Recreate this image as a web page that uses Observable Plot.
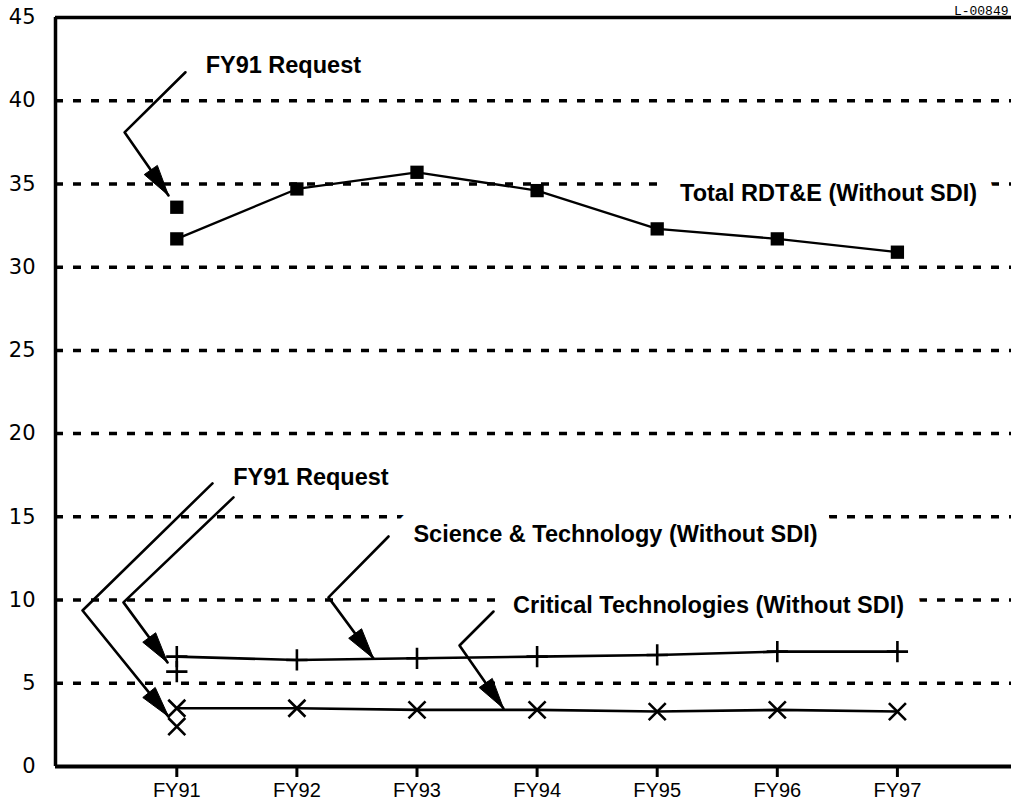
<!DOCTYPE html>
<html><head><meta charset="utf-8">
<script src="https://cdn.jsdelivr.net/npm/d3@7"></script>
<script src="https://cdn.jsdelivr.net/npm/@observablehq/plot@0.6"></script>
<style>body{margin:0;background:#fff;} #chart{width:1011px;height:810px;}</style>
</head><body><div id="chart"></div>
<script>
// ---- data ----
const years = ["FY91","FY92","FY93","FY94","FY95","FY96","FY97"];
const totalRDTE    = [31.7, 34.7, 35.7, 34.6, 32.3, 31.7, 30.9];
const scienceTech  = [6.6, 6.4, 6.5, 6.6, 6.7, 6.9, 6.9];
const criticalTech = [3.5, 3.5, 3.4, 3.4, 3.3, 3.4, 3.3];
const requestYear = "FY91";
const requestTotal = [33.6];
const requestScience = [5.7];
const requestCritical = [2.4];
const yTicks = [0, 5, 10, 15, 20, 25, 30, 35, 40, 45];
const gridValues = [5, 10, 15, 20, 25, 30, 35, 40];

// annotation labels (data coordinates)
const labelTexts = ["FY91 Request", "Total RDT&E (Without SDI)", "FY91 Request",
                    "Science & Technology (Without SDI)", "Critical Technologies (Without SDI)"];
const labelX = [91.24, 95.19, 91.47, 92.97, 93.80];
const labelY = [42.13, 34.43, 17.37, 13.94, 9.67];

// leader polylines (data coordinates): start, knee, arrow tip
const leaderIds = ["top", "critReq", "stReq", "st", "crit"];
const leaderX = [[91.072, 90.565, 90.931], [91.297, 90.215, 90.931], [91.472, 90.556, 90.923],
                 [92.763, 92.263, 92.638], [93.637, 93.354, 93.720]];
const leaderY = [[41.71, 38.10, 34.31], [17.01, 9.375, 3.0], [16.17, 9.86, 6.25],
                 [13.82, 10.16, 6.49], [9.31, 7.27, 3.49]];

// ---- layout ----
const W = 1011, H = 810;
const mL = 55, mR = 0, mT = 17, mB = 44;
const xDomain = [89.99, 97.95];
const yDomain = [0, 45];
const fy = s => +s.slice(2);

const rows = years.map((y, i) => ({year: fy(y), total: totalRDTE[i], st: scienceTech[i], crit: criticalTech[i]}));
const labels = labelTexts.map((t, i) => ({t, x: labelX[i], y: labelY[i]}));
const leaderPts = leaderIds.flatMap((id, i) => leaderX[i].map((x, j) => ({id, x, y: leaderY[i][j]})));

// arrowheads computed in pixel space through the same scales
const sx = Plot.scale({x: {domain: xDomain, range: [mL, W - mR]}});
const sy = Plot.scale({y: {domain: yDomain, range: [H - mB, mT]}});
const headLen = 31, headHalf = 8;
const headPts = leaderIds.flatMap((id, i) => {
  const n = leaderX[i].length;
  const x1 = sx.apply(leaderX[i][n-2]), y1 = sy.apply(leaderY[i][n-2]);
  const x2 = sx.apply(leaderX[i][n-1]), y2 = sy.apply(leaderY[i][n-1]);
  const d = Math.hypot(x2 - x1, y2 - y1), ux = (x2 - x1) / d, uy = (y2 - y1) / d;
  const bx = x2 - headLen * ux, by = y2 - headLen * uy;
  const pts = [[x2, y2], [bx - headHalf * uy, by + headHalf * ux], [bx + headHalf * uy, by - headHalf * ux], [x2, y2]];
  return pts.map(([px, py]) => ({id, x: sx.invert(px), y: sy.invert(py)}));
});

const labelFont = "Liberation Sans, Arial, Helvetica, sans-serif";

const chart = Plot.plot({
  width: W, height: H,
  marginLeft: mL, marginRight: mR, marginTop: mT, marginBottom: mB,
  style: {fontFamily: "DejaVu Sans, sans-serif", fontSize: "21px", color: "black", background: "white"},
  x: {domain: xDomain, ticks: years.map(fy), tickFormat: d => "FY" + d, tickSize: 11, tickPadding: 5, label: null},
  y: {domain: yDomain, ticks: yTicks, tickSize: 0, tickPadding: 20, label: null},
  marks: [
    Plot.ruleY(gridValues, {stroke: "black", strokeWidth: 3.5, strokeDasharray: "8,10"}),
    Plot.ruleX([xDomain[0]], {stroke: "black", strokeWidth: 3.5}),
    Plot.ruleY([45], {stroke: "black", strokeWidth: 3.5}),
    Plot.ruleY([0], {stroke: "black", strokeWidth: 4}),
    // white halo behind labels breaks the gridlines
    Plot.text(labels, {x: "x", y: "y", text: "t", textAnchor: "start", fontSize: 23.5, fontWeight: "bold",
      fontFamily: labelFont, fill: "white", stroke: "white", strokeWidth: 34, strokeLinejoin: "round"}),
    Plot.text(labels, {x: "x", y: "y", text: "t", textAnchor: "start", fontSize: 23.5, fontWeight: "bold",
      fontFamily: labelFont, fill: "black"}),
    Plot.line(rows, {x: "year", y: "total", stroke: "black", strokeWidth: 2.3}),
    Plot.line(rows, {x: "year", y: "st", stroke: "black", strokeWidth: 2.6}),
    Plot.line(rows, {x: "year", y: "crit", stroke: "black", strokeWidth: 2.6}),
    Plot.dot(rows, {x: "year", y: "total", symbol: "square", r: 7.5, fill: "black"}),
    Plot.dot(requestTotal, {x: () => fy(requestYear), y: d => d, symbol: "square", r: 7.5, fill: "black"}),
    Plot.dot(rows, {x: "year", y: "st", symbol: "plus", r: 6.9, stroke: "black", strokeWidth: 2.6}),
    Plot.dot(requestScience, {x: () => fy(requestYear), y: d => d, symbol: "plus", r: 6.9, stroke: "black", strokeWidth: 2.6}),
    Plot.dot(rows, {x: "year", y: "crit", symbol: "times", r: 7.8, stroke: "black", strokeWidth: 2.6}),
    Plot.dot(requestCritical, {x: () => fy(requestYear), y: d => d, symbol: "times", r: 7.8, stroke: "black", strokeWidth: 2.6}),
    Plot.line(leaderPts, {x: "x", y: "y", z: "id", stroke: "black", strokeWidth: 2.6}),
    Plot.line(headPts, {x: "x", y: "y", z: "id", fill: "black", stroke: "black", strokeWidth: 1}),
    Plot.text(["L-00849"], {text: d => d, frameAnchor: "top-right", textAnchor: "end", lineAnchor: "bottom",
      dx: -3, dy: -3, fontSize: 13, fontFamily: "Liberation Mono, DejaVu Sans Mono, monospace"})
  ]
});

// axis styling
chart.querySelectorAll('g[aria-label^="x-axis"]').forEach(g => {
  g.querySelectorAll("line, path").forEach(el => el.setAttribute("stroke-width", "3"));
  g.querySelectorAll("text").forEach(el => {
    el.style.fontFamily = "Liberation Sans, Arial, sans-serif";
    el.style.fontSize = "20px";
  });
});
document.getElementById("chart").appendChild(chart);
</script>
</body></html>
